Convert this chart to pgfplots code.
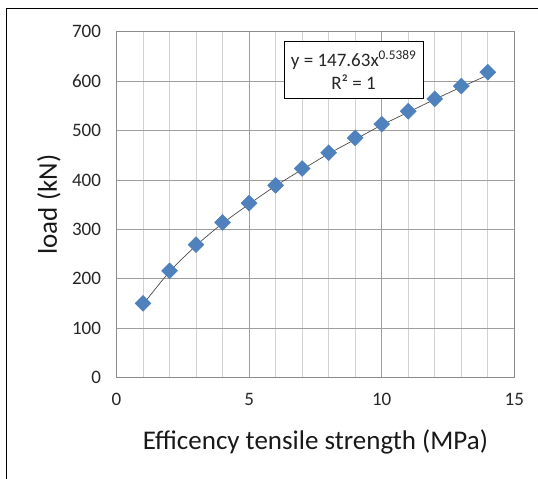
\documentclass[border=0pt]{standalone}
\usepackage{pgfplots}
\pgfplotsset{compat=1.18}
\usepackage{fontspec}
\setmainfont{Carlito}
\definecolor{ptblue}{HTML}{4F81BD}
\begin{document}
\begin{tikzpicture}[x=1pt,y=1pt]
\path[use as bounding box] (0,0) rectangle (538,-479);
\draw[line width=1.3pt, black] (6.7,-479) -- (6.7,-8.3) -- (538,-8.3);
\begin{axis}[
 at={(116.5pt,-377.5pt)}, anchor=south west,
 scale only axis, width=397.8pt, height=345.8pt,
 xmin=0, xmax=15, ymin=0, ymax=700,
 xtick={0,5,10,15}, minor xtick={1,2,3,4,6,7,8,9,11,12,13,14},
 ytick={0,100,...,700},
 grid=both,
 major grid style={color=black!38, line width=0.8pt},
 minor grid style={color=black!18, line width=0.8pt},
 axis line style={color=black!45, line width=0.8pt},
 major tick length=0pt, minor tick length=0pt,
 tick label style={font=\fontsize{19}{22}\selectfont, text=black!85},
 /pgf/number format/assume math mode=true,
 xticklabel style={yshift=-12pt},
 yticklabel style={xshift=-12pt},
 xlabel={Efficency tensile strength (MPa)},
 ylabel={load (kN)},
 label style={font=\fontsize{27}{30}\selectfont, text=black!90},
 xlabel style={at={(axis description cs:0.5,-0.208)}, anchor=base},
 ylabel style={at={(axis description cs:-0.1496,0.5)}, anchor=base},
 clip=false,
]
\addplot[black!70, line width=0.7pt, smooth, no marks] coordinates {
 (1,148) (2,214) (3,267) (4,312) (5,351) (6,388) (7,421) (8,453) (9,482) (10,511) (11,537) (12,563) (13,588) (14,612)
};
\addplot[only marks, mark=square*, mark size=5.66pt, mark options={rotate=45, fill=ptblue, draw=ptblue}] coordinates {
 (1,150) (2,216) (3,269) (4,314) (5,353) (6,389) (7,423) (8,455) (9,485) (10,513) (11,539) (12,564) (13,590) (14,618)
};
\node[draw=black, fill=white, line width=0.8pt, minimum width=139pt, minimum height=56.6pt, align=center, font=\fontsize{19}{23}\selectfont, text=black!85] at (axis cs:8.94,622.5) {y = 147.63x\textsuperscript{0.5389}\\R² = 1};
\end{axis}
\end{tikzpicture}
\end{document}
